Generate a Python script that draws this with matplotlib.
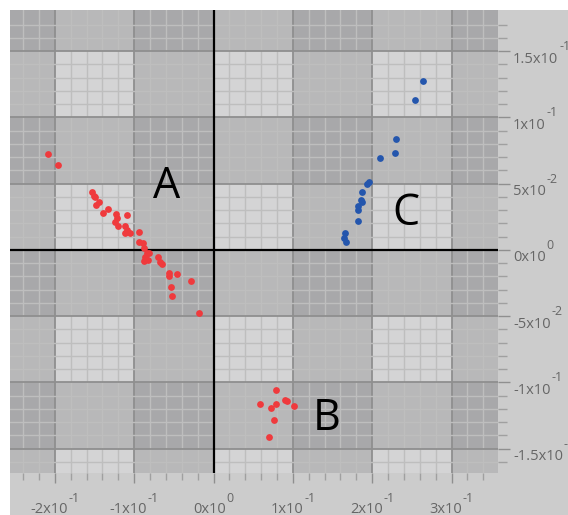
import numpy as np
import matplotlib
matplotlib.use('Agg')
import matplotlib.pyplot as plt
from matplotlib.patches import Rectangle

plt.rcParams['font.family'] = ['Open Sans', 'DejaVu Sans']

# Cluster A (red)
a_x = [-0.208, -0.196, -0.153, -0.151, -0.149, -0.144, -0.148, -0.1335, -0.139, -0.123,
       -0.1085, -0.122, -0.1245, -0.120, -0.111, -0.109, -0.1115, -0.1055, -0.094, -0.0945,
       -0.0895, -0.0875, -0.084, -0.081, -0.0866, -0.088, -0.083, -0.070, -0.0675, -0.0645,
       -0.056, -0.056, -0.0465, -0.028, -0.054, -0.052, -0.0185]
a_y = [0.072, 0.064, 0.044, 0.041, 0.040, 0.036, 0.034, 0.031, 0.028, 0.027,
       0.0266, 0.024, 0.0213, 0.018, 0.018, 0.015, 0.0126, 0.0126, 0.0138, 0.0063,
       0.0055, 0.0013, -0.002, -0.0025, -0.005, -0.008, -0.0075, -0.0055, -0.0088, -0.0106,
       -0.0176, -0.0196, -0.018, -0.0234, -0.0277, -0.0347, -0.0477]
# Cluster B (red)
b_x = [0.0792, 0.058, 0.0726, 0.0792, 0.0897, 0.0927, 0.101, 0.0759, 0.0696]
b_y = [-0.106, -0.1164, -0.1194, -0.116, -0.113, -0.1139, -0.118, -0.128, -0.141]
# Cluster C (blue)
c_x = [0.2638, 0.254, 0.230, 0.229, 0.210, 0.1954, 0.1933, 0.187, 0.186, 0.187,
       0.1815, 0.1815, 0.1815, 0.166, 0.164, 0.167]
c_y = [0.1275, 0.113, 0.084, 0.073, 0.069, 0.0515, 0.0498, 0.044, 0.038, 0.0364,
       0.033, 0.030, 0.0219, 0.013, 0.0088, 0.006]

x_ticks = [-0.2, -0.1, 0.0, 0.1, 0.2, 0.3]
x_labels = [('-2x10', '-1'), ('-1x10', '-1'), ('0x10', '0'),
            ('1x10', '-1'), ('2x10', '-1'), ('3x10', '-1')]
y_ticks = [-0.15, -0.1, -0.05, 0.0, 0.05, 0.1, 0.15]
y_labels = [('-1.5x10', '-1'), ('-1x10', '-1'), ('-5x10', '-2'), ('0x10', '0'),
            ('5x10', '-2'), ('1x10', '-1'), ('1.5x10', '-1')]

W, H = 568, 515
fig = plt.figure(figsize=(W / 100, H / 100), dpi=100, facecolor='#cccccc')
# white margin strips at top and left
fig.patches.append(Rectangle((0, 1 - 10 / H), 1, 10 / H, transform=fig.transFigure,
                             facecolor='white', edgecolor='none', zorder=-1))
fig.patches.append(Rectangle((0, 0), 10 / W, 1, transform=fig.transFigure,
                             facecolor='white', edgecolor='none', zorder=-1))

ax = fig.add_axes([10 / W, (H - 473) / H, 488 / W, 463 / H])
xmin, xmax = -0.2565, 0.3585
ymin, ymax = -0.1683, 0.1810

# checkerboard background
light, medium, dark = '#d4d4d5', '#b8b8b9', '#a8a8aa'
for i in range(7):
    for j in range(8):
        n = (i % 2 == 0) + (j % 2 == 1)
        col = [light, medium, dark][n]
        ax.add_patch(Rectangle((-0.3 + 0.1 * i, -0.2 + 0.05 * j), 0.1, 0.05,
                               facecolor=col, edgecolor='none', zorder=0))

ax.set_xlim(xmin, xmax)
ax.set_ylim(ymin, ymax)
ax.set_xticks(x_ticks)
ax.set_xticklabels([])
ax.set_xticks(np.arange(-0.24, 0.36, 0.02), minor=True)
ax.set_yticks(y_ticks)
ax.set_yticklabels([])
ax.set_yticks(np.arange(-0.16, 0.18, 0.01), minor=True)
ax.yaxis.tick_right()
ax.set_axisbelow(True)
ax.grid(which='minor', color='#bebebe', lw=1.0)
ax.grid(which='major', color='#8f8f8f', lw=1.3)
for s in ax.spines.values():
    s.set_visible(False)
ax.tick_params(axis='x', which='major', direction='out', length=7.2, width=1, color='#8f8f8f')
ax.tick_params(axis='x', which='minor', direction='out', length=5, width=1, color='#a0a0a0')
ax.tick_params(axis='y', which='major', direction='out', length=8.6, width=1, color='#8f8f8f')
ax.tick_params(axis='y', which='minor', direction='out', length=6.5, width=1, color='#a0a0a0')

ax.axhline(0, color='black', lw=1.6, zorder=2)
ax.axvline(0, color='black', lw=1.6, zorder=2)

ax.scatter(a_x, a_y, s=24, color='#ef3a3d', zorder=3, linewidths=0)
ax.scatter(b_x, b_y, s=24, color='#ef3a3d', zorder=3, linewidths=0)
ax.scatter(c_x, c_y, s=24, color='#2456ad', zorder=3, linewidths=0)

ax.text(-0.059, 0.048, 'A', fontsize=31, ha='center', va='center', zorder=4)
ax.text(0.1425, -0.127, 'B', fontsize=31, ha='center', va='center', zorder=4)
ax.text(0.242, 0.027, 'C', fontsize=31, ha='center', va='center', zorder=4)

# tick labels: main text plus a raised exponent
renderer = fig.canvas.get_renderer()
main_size, sup_size, lab_col = 10.5, 9, '#666666'


def text_width(s, size):
    t = fig.text(0, 0, s, fontsize=size)
    w = t.get_window_extent(renderer).width
    t.remove()
    return w


for tick, (main, sup) in zip(x_ticks, x_labels):
    wm = text_width(main, main_size)
    ws = text_width(sup, sup_size)
    left = -(wm + ws + 1) / 2
    ax.annotate(main, (tick, 0), xycoords=('data', 'axes fraction'), xytext=(left, -40),
                textcoords='offset pixels', ha='left', va='baseline',
                fontsize=main_size, color=lab_col, annotation_clip=False)
    ax.annotate(sup, (tick, 0), xycoords=('data', 'axes fraction'), xytext=(left + wm + 1, -29),
                textcoords='offset pixels', ha='left', va='baseline',
                fontsize=sup_size, color=lab_col, annotation_clip=False)

for tick, (main, sup) in zip(y_ticks, y_labels):
    wm = text_width(main, main_size)
    ax.annotate(main, (1, tick), xycoords=('axes fraction', 'data'), xytext=(15, -11.5),
                textcoords='offset pixels', ha='left', va='baseline',
                fontsize=main_size, color=lab_col, annotation_clip=False)
    ax.annotate(sup, (1, tick), xycoords=('axes fraction', 'data'), xytext=(15 + wm + 1, 1),
                textcoords='offset pixels', ha='left', va='baseline',
                fontsize=sup_size, color=lab_col, annotation_clip=False)

fig.savefig('out.png', dpi=100, facecolor=fig.get_facecolor())
